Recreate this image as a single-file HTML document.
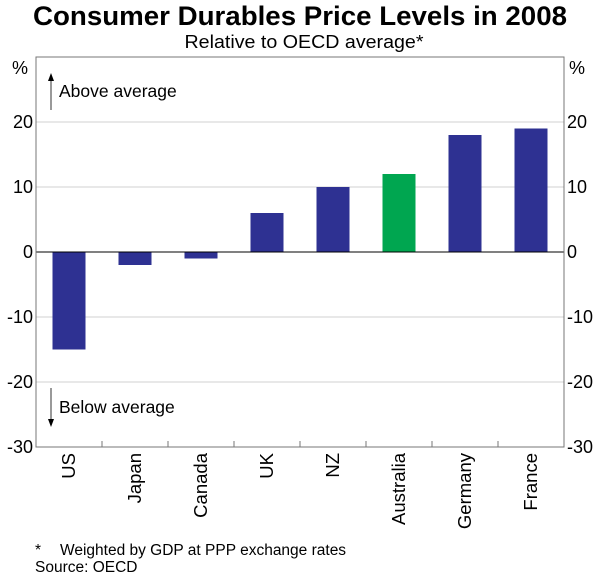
<!DOCTYPE html>
<html><head><meta charset="utf-8"><style>
body{margin:0;background:#fff;font-family:"Liberation Sans",Arial,sans-serif}
svg text{font-family:"Liberation Sans",Arial,sans-serif;fill:#000}
</style></head><body>
<svg id="chart" width="600" height="577" xmlns="http://www.w3.org/2000/svg">
<text x="300" y="25" text-anchor="middle" font-size="27" font-weight="bold" textLength="534" lengthAdjust="spacingAndGlyphs">Consumer Durables Price Levels in 2008</text>
<text x="304" y="48" text-anchor="middle" font-size="18" textLength="239" lengthAdjust="spacingAndGlyphs">Relative to OECD average*</text>
<g id="grid"></g>
<g id="bars"></g>
<g id="axes"></g>
<text x="59" y="97" font-size="17.5">Above average</text>
<text x="59" y="413" font-size="17.5">Below average</text>
<line x1="51" y1="110" x2="51" y2="80" stroke="#555" stroke-width="1.2"/>
<polygon points="48,81 54,81 51,73" fill="#000"/>
<line x1="51" y1="388" x2="51" y2="420" stroke="#555" stroke-width="1.2"/>
<polygon points="48,419 54,419 51,427" fill="#000"/>
<text x="35" y="555" font-size="15.5">*</text>
<text x="60" y="555" font-size="15.5">Weighted by GDP at PPP exchange rates</text>
<text x="35" y="572" font-size="15.5">Source: OECD</text>
</svg>
<script>
const categories=["US","Japan","Canada","UK","NZ","Australia","Germany","France"];
const values=[-15,-2,-1,6,10,12,18,19];
const ticks=[-30,-20,-10,0,10,20];
const NS="http://www.w3.org/2000/svg";
const L=36,R=564,T=57,B=447,yMin=-30,yMax=30;
const y=v=>T+(yMax-v)/(yMax-yMin)*(B-T);
const bw=(R-L)/categories.length;
const x=i=>L+bw*(i+0.5);
function mk(tag,attrs,parent){const e=document.createElementNS(NS,tag);for(const k in attrs)e.setAttribute(k,attrs[k]);document.getElementById(parent).appendChild(e);return e;}
ticks.forEach(t=>{
  if(t!==0){const g=mk('line',{x1:L,x2:R,y1:y(t),y2:y(t),stroke:'#d0d0d0','stroke-width':1},'grid');
  
  }
  const a=mk('text',{x:L-3,y:y(t)+6,'text-anchor':'end','font-size':18},'axes');a.textContent=t;
  
  
  const b=mk('text',{x:R+3,y:y(t)+6,'font-size':18},'axes');b.textContent=t;
  
  
});
const p1=mk('text',{x:L-8,y:y(yMax)+17,'text-anchor':'end','font-size':18},'axes');p1.textContent='%';


const p2=mk('text',{x:R+5,y:y(yMax)+17,'font-size':18},'axes');p2.textContent='%';


values.forEach((v,i)=>{
  const r=mk('rect',{x:x(i)-16.5,width:33,y:Math.min(y(v),y(0)),height:Math.abs(y(v)-y(0)),fill:categories[i]==='Australia'?'#00a650':'#2e3192'},'bars');
  
  
  const t=mk('text',{'font-size':18.5,'text-anchor':'end',transform:`translate(${x(i)+6},${B+6}) rotate(-90)`},'axes');t.textContent=categories[i];
  
  
});
const z=mk('line',{x1:L,x2:R,y1:y(0),y2:y(0),stroke:'#000','stroke-width':1},'axes');


const f=mk('rect',{x:L,y:T,width:R-L,height:B-T,fill:'none',stroke:'#777','stroke-width':1},'axes');


for(let i=1;i<categories.length;i++){const tk=mk('line',{x1:L+bw*i,x2:L+bw*i,y1:B,y2:B-6,stroke:'#777'},'axes');

}
</script>
</body></html>
